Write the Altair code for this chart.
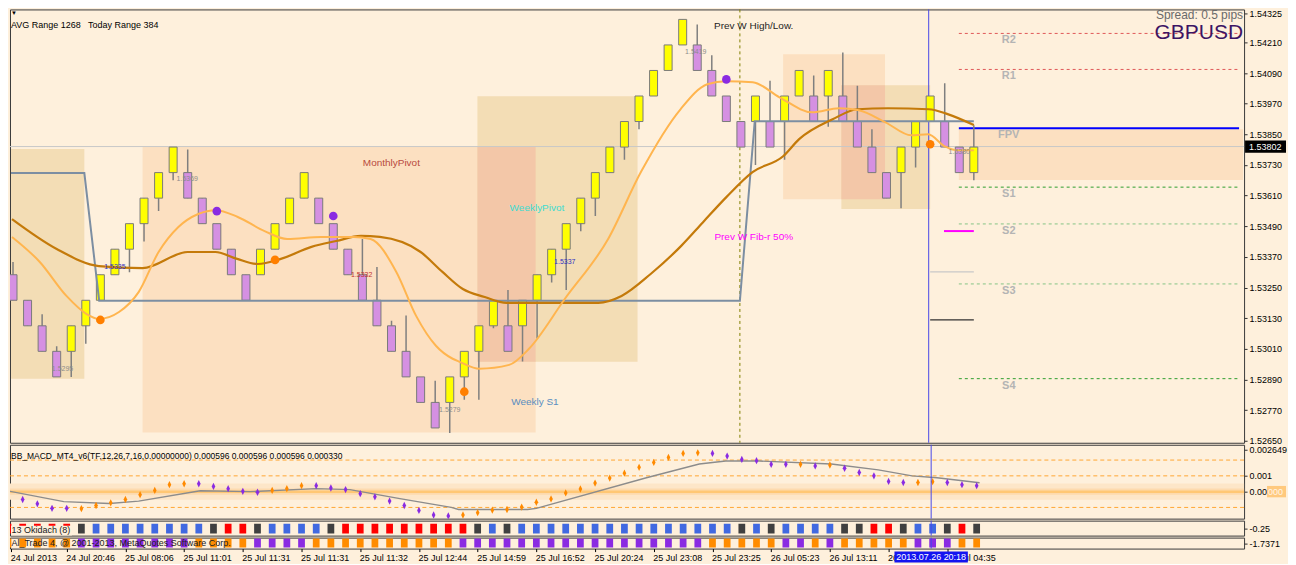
import json
import altair as alt
import pandas as pd

FONT = "Liberation Sans"
BG = "#FEF0DC"
W = 1236
H_MAIN, H_MACD, H_R1, H_R2 = 434, 74, 15, 11
X_DOM = [1.136, 85.22]
Y_DOM = [1.52642, 1.54339]
M_DOM = [-0.00171, 0.00297]

# ---------------- data ----------------
bars = list(range(1, 68))
opens = [1.5330, 1.5320, 1.5310, 1.5300, 1.5300, 1.5310, 1.5320, 1.5330, 1.5340, 1.5350,
         1.5360, 1.5370, 1.5370, 1.5360, 1.5350, 1.5340, 1.5330, 1.5330, 1.5340, 1.5350,
         1.5360, 1.5360, 1.5350, 1.5340, 1.5330, 1.5320, 1.5310, 1.5300, 1.5290, 1.5280,
         1.5280, 1.5290, 1.5300, 1.5310, 1.5310, 1.5310, 1.5320, 1.5330, 1.5340, 1.5350,
         1.5360, 1.5370, 1.5380, 1.5390, 1.5400, 1.5410, 1.5420, 1.5420, 1.5410, 1.5400,
         1.5390, 1.5390, 1.5390, 1.5390, 1.5400, 1.5400, 1.5400, 1.5400, 1.5390, 1.5380,
         1.5370, 1.5370, 1.5380, 1.5390, 1.5390, 1.5380, 1.5370]
closes = [1.5320, 1.5310, 1.5300, 1.5290, 1.5310, 1.5320, 1.5330, 1.5340, 1.5350, 1.5360,
          1.5370, 1.5380, 1.5360, 1.5350, 1.5340, 1.5330, 1.5320, 1.5340, 1.5350, 1.5360,
          1.5370, 1.5350, 1.5340, 1.5330, 1.5320, 1.5310, 1.5300, 1.5290, 1.5280, 1.5270,
          1.5290, 1.5300, 1.5310, 1.5320, 1.5300, 1.5320, 1.5330, 1.5340, 1.5350, 1.5360,
          1.5370, 1.5380, 1.5390, 1.5400, 1.5410, 1.5420, 1.5430, 1.5410, 1.5400, 1.5390,
          1.5380, 1.5400, 1.5380, 1.5400, 1.5410, 1.5390, 1.5410, 1.5390, 1.5380, 1.5370,
          1.5360, 1.5380, 1.5390, 1.5400, 1.5380, 1.5370, 1.5380]
highs = [1.5335, 1.5320, 1.53145, 1.5302, 1.5310, 1.5320, 1.5330, 1.5340, 1.5350, 1.5360,
         1.5370, 1.5380, 1.5379, 1.5360, 1.5350, 1.5340, 1.5330, 1.5340, 1.5350, 1.5360,
         1.5370, 1.5360, 1.5350, 1.5340, 1.5344, 1.5333, 1.5312, 1.5314, 1.5290, 1.52885,
         1.5290, 1.5300, 1.5310, 1.5320, 1.5324, 1.5320, 1.5330, 1.5340, 1.5350, 1.5360,
         1.5370, 1.5380, 1.5390, 1.5400, 1.5410, 1.5420, 1.5430, 1.5428, 1.5416, 1.5400,
         1.5390, 1.5400, 1.5406, 1.5400, 1.5410, 1.5408, 1.5410, 1.5417, 1.5404, 1.5387,
         1.5370, 1.5380, 1.5390, 1.5400, 1.5405, 1.5380, 1.53885]
lows = [1.5320, 1.5310, 1.5300, 1.5290, 1.5290, 1.5303, 1.5320, 1.5330, 1.5331, 1.5343,
        1.5355, 1.5367, 1.5360, 1.5350, 1.5340, 1.5330, 1.5320, 1.5330, 1.5340, 1.5350,
        1.5360, 1.5350, 1.5340, 1.5330, 1.5320, 1.5310, 1.5300, 1.5290, 1.5280, 1.5270,
        1.5268, 1.5281, 1.5281, 1.5309, 1.5300, 1.5296, 1.5305, 1.5327, 1.5324, 1.5347,
        1.5353, 1.5370, 1.5375, 1.5387, 1.5400, 1.5410, 1.5420, 1.5410, 1.5400, 1.5390,
        1.5380, 1.5373, 1.5380, 1.5375, 1.5400, 1.5390, 1.5388, 1.5390, 1.5380, 1.5370,
        1.5360, 1.5356, 1.5372, 1.5390, 1.5380, 1.5370, 1.5367]

price_ticks = [1.52650, 1.52770, 1.52890, 1.53010, 1.53130, 1.53250, 1.53370, 1.53490,
               1.53610, 1.53730, 1.53850, 1.53970, 1.54090, 1.54210, 1.54325]
last_price = 1.53802

slow_x = [0.93, 4.0, 6.9, 9.9, 13.0, 14.9, 16.4, 17.8, 19.4, 21.5, 23.2, 24.9, 26.2, 29.0,
          30.5, 31.9, 33.4, 34.9, 37.3, 41.2, 42.8, 44.8, 46.9, 48.4, 50.0, 51.8, 53.9,
          55.0, 57.3, 59.0, 61.1, 63.9, 65.2, 67.0]
slow_y = [1.53518, 1.53401, 1.53334, 1.53326, 1.53389, 1.53389, 1.53362, 1.53342, 1.53362,
          1.53409, 1.53432, 1.53452, 1.53448, 1.53389, 1.53311, 1.53244, 1.53213, 1.53190,
          1.53190, 1.53190, 1.53217, 1.53303, 1.53413, 1.53506, 1.53604, 1.53702, 1.53764,
          1.53831, 1.53909, 1.53948, 1.53952, 1.53948, 1.53929, 1.53886]
fast_x = [0.93, 2.84, 4.67, 6.03, 6.92, 8.28, 9.64, 11.0, 12.36, 13.72, 14.95, 16.44, 18.28,
          19.84, 22.16, 24.4, 25.56, 27.33, 28.69, 30.05, 31.2, 31.68, 33.04, 35.08, 36.44,
          38.9, 41.88, 44.13, 46.85, 48.69, 49.98, 51.82, 53.65, 55.9, 57.73, 59.1, 60.93,
          62.7, 63.86, 65.0, 65.76, 67.0]
fast_y = [1.53448, 1.53350, 1.53217, 1.53147, 1.53127, 1.53154, 1.53233, 1.53389, 1.53487,
          1.53538, 1.53553, 1.53526, 1.53471, 1.53440, 1.53448, 1.53448, 1.53440, 1.53311,
          1.53139, 1.53022, 1.52971, 1.52959, 1.52932, 1.52947, 1.53010, 1.53205, 1.53440,
          1.53702, 1.53948, 1.54046, 1.54058, 1.54054, 1.53995, 1.53936, 1.53952, 1.53944,
          1.53897, 1.53846, 1.53850, 1.53803, 1.53788, 1.53788]

step_x = [0.864, 5.9, 6.92, 50.93, 51.95, 67.0]
step_y = [1.53698, 1.53698, 1.53198, 1.53198, 1.53901, 1.53901]

dot_bar = [15, 23, 50, 7, 19, 32, 64]
dot_price = [1.53549, 1.53530, 1.54065, 1.53123, 1.53358, 1.52842, 1.53811]
dot_kind = ["sell", "sell", "sell", "buy", "buy", "buy", "buy"]

zone_x1 = [0.864, 9.9, 32.9, 53.9, 57.9, 65.97, 32.9, 57.9]
zone_x2 = [5.9, 36.9, 43.9, 60.9, 64.0, 85.49, 36.9, 60.9]
zone_lo = [1.52893, 1.52682, 1.52959, 1.53596, 1.53557, 1.53671, 1.52959, 1.53596]
zone_hi = [1.53792, 1.53800, 1.53999, 1.54163, 1.54042, 1.53870, 1.53800, 1.54042]
zone_kind = ["tan", "peach", "tan", "peach", "tan", "peach", "both", "both"]

level_names = ["R2", "R1", "FPV", "S1", "S2", "S3", "S4"]
level_price = [1.54245, 1.54104, 1.53874, 1.53643, 1.53499, 1.53264, 1.52893]
level_start = 65.97

short_names = ["fib50", "mid", "low"]
short_x1 = [64.95, 64.0, 64.0]
short_x2 = [67.0, 67.0, 67.0]
short_price = [1.53471, 1.53311, 1.53123]

week_sep = 50.93
cursor_bar = 63.9
cursor_time = "2013.07.26 20:18"

cl_text = ["1.5295", "1.5335", "1.5369", "1.5332", "1.5279", "1.5337", "1.5419", "1.5380"]
cl_bar = [4.4, 8.0, 12.97, 24.95, 31.0, 38.9, 47.9, 66.0]
cl_price = [1.52932, 1.53330, 1.53674, 1.53299, 1.52771, 1.53350, 1.54171, 1.53780]
cl_kind = ["g", "b", "g", "r", "g", "b", "g", "g"]

ann_text = ["MonthlyPivot", "WeeklyPivot", "Weekly S1", "Prev W High/Low.", "Prev W Fib-r 50%"]
ann_bar = [26.99, 36.99, 36.85, 51.88, 51.88]
ann_price = [1.53737, 1.53561, 1.52803, 1.54276, 1.53448]

macd_vals = [-0.00019, -0.00050, -0.00077, -0.00106, -0.00106, -0.00108, -0.00088, -0.00071, -0.00050, -0.00019,
             0.00008, 0.00044, 0.00050, 0.00050, 0.00033, 0.00019, 0.00002, -0.00004, 0.00008, 0.00019,
             0.00038, 0.00038, 0.00023, 0.00013, -0.00013, -0.00033, -0.00060, -0.00088, -0.00119, -0.00148,
             -0.00154, -0.00148, -0.00133, -0.00117, -0.00113, -0.00098, -0.00067, -0.00046, -0.00008, 0.00017,
             0.00054, 0.00086, 0.00117, 0.00154, 0.00185, 0.00217, 0.00242, 0.00246, 0.00242, 0.00225,
             0.00204, 0.00196, 0.00173, 0.00173, 0.00173, 0.00163, 0.00169, 0.00148, 0.00121, 0.00100,
             0.00065, 0.00058, 0.00058, 0.00063, 0.00058, 0.00044, 0.00038]
macd_codes = list("PPPPP" "OOOOOOOO" "PPPPP" "OOO" "PPPPPPPPPP" "OOOOOOOOOOOOOOOOO"
                  "PPPPPP" "O" "P" "O" "PPPPP" "OO" "PPP")
sig_x = [0.9, 4.8, 7.9, 9.9, 14.1, 17.5, 22.0, 24.3, 27.7, 31.2, 31.7, 36.4, 37.0, 44.5,
         48.1, 49.9, 52.2, 57.1, 60.3, 62.6, 64.3, 67.2]
sig_y = [0.00006, -0.00063, -0.00075, -0.00060, 0.00006, 0.0, 0.00019, 0.00013, -0.00044,
         -0.00100, -0.00113, -0.00113, -0.00106, 0.00088, 0.00175, 0.00194, 0.00194, 0.00175,
         0.00138, 0.00100, 0.00088, 0.00056]
macd_levels = [0.002, 0.001, -0.001]

ok_codes = list("RRRRR" "K" "BBBBBBBB" "K" "RR" "K" "BBBB" "K" "RRRRRRRRR" "K" "B" "K"
                "BBBBBBBBBBBBBBB" "K" "B" "K" "BBBB" "KK" "RR" "K" "BB" "K" "R" "K")
at_codes = list("OOOOO" "PPPPPPPP" "OOOO" "PPPP" "OOOOOOOOOO" "PPPPPPPPPPPPPPPPP"
                "OOOOO" "PP" "O" "P" "OOOOO" "PPP" "OO")

tick_bars = [1, 5, 9, 13, 17, 21, 25, 29, 33, 37, 41, 45, 49, 53, 57, 61, 65]
time_labels = ["24 Jul 2013", "24 Jul 20:46", "25 Jul 08:06", "25 Jul 11:01", "25 Jul 11:31",
               "25 Jul 11:31", "25 Jul 11:32", "25 Jul 12:44", "25 Jul 14:59", "25 Jul 16:52",
               "25 Jul 20:24", "25 Jul 23:08", "25 Jul 23:25", "26 Jul 05:23", "26 Jul 13:11",
               "26 Jul 17:40", "27 Jul 04:35"]

# ---------------- styles ----------------
UP, DN = "#FFFF00", "#D590E2"
ZONE_COL = {"tan": "#F3DDB5", "peach": "#FCE0C1", "both": "#F3C7A8"}
LEVEL_COL = {"R2": "#E05858", "R1": "#E05858", "FPV": "#0000FF", "S1": "#2E9E2E",
             "S2": "#86C486", "S3": "#86C486", "S4": "#2E9E2E"}
SHORT_COL = {"fib50": "#FF00FF", "mid": "#C8C8C8", "low": "#303030"}
SHORT_W = {"fib50": 2, "mid": 1.2, "low": 1.2}
DOT_COL = {"sell": "#8A2BE2", "buy": "#FF7F00"}
CL_COL = {"g": "#8C8C8C", "b": "#3030C0", "r": "#C03030"}
ANN_COL = ["#B84A40", "#40DCD0", "#5A8EC0", "#1E1E1E", "#FF00FF"]
MACD_COL = {"P": "#8A2BE2", "O": "#FF8A00"}
OK_COL = {"R": "#FF0000", "K": "#404040", "B": "#4169E1"}
AT_COL = {"O": "#FF8C00", "P": "#8A2BE2"}
CURSOR = "#4848E8"
NB = "\u00a0"


def X(field, axis=None):
    return alt.X(field, type="quantitative",
                 scale=alt.Scale(domain=X_DOM, nice=False, zero=False), axis=axis)


common_axis = dict(orient="right", title=None, tickSize=3, tickColor="#303030",
                   labelPadding=2, labelFontSize=9, labelColor="#000000", domain=False,
                   grid=False, labelFlush=False, labelOverlap=False)
price_axis = alt.Axis(values=price_ticks, format=".5f", **common_axis)


def Yp(field):
    return alt.Y(field, type="quantitative",
                 scale=alt.Scale(domain=Y_DOM, nice=False, zero=False), axis=price_axis)


macd_axis = alt.Axis(values=[0.002649, 0.001, 0.0, -0.001721],
                     labelExpr="datum.value > 0.002 ? '0.002649' : datum.value > 0.0005 ? '0.001' : "
                               "datum.value > -0.0005 ? '0.00' : '-0.001721'",
                     **common_axis)


def Ym(field):
    return alt.Y(field, type="quantitative",
                 scale=alt.Scale(domain=M_DOM, nice=False, zero=False), axis=macd_axis)


ident = lambda f: alt.Color(f, type="nominal", scale=None)

# ---------------- main panel ----------------
ohlc = pd.DataFrame({"bar": bars, "open": opens, "close": closes, "high": highs, "low": lows})
ohlc["c"] = [UP if c > o else DN for o, c in zip(opens, closes)]

zones = pd.DataFrame({"x1": zone_x1, "x2": zone_x2, "lo": zone_lo, "hi": zone_hi,
                      "c": [ZONE_COL[k] for k in zone_kind]})
levels = pd.DataFrame({"name": level_names, "p": level_price,
                       "x1": [level_start] * len(level_names), "x2": [X_DOM[1]] * len(level_names),
                       "c": [LEVEL_COL[n] for n in level_names]})
shorts = pd.DataFrame({"x1": short_x1, "x2": short_x2, "p": short_price,
                       "c": [SHORT_COL[n] for n in short_names], "w": [SHORT_W[n] for n in short_names]})

layers = []
layers.append(alt.Chart(zones).mark_rect(clip=True).encode(
    x=X("x1"), x2="x2", y=Yp("lo"), y2="hi", color=ident("c")))
layers.append(alt.Chart(pd.DataFrame({"p": [last_price]})).mark_rule(
    color="#C8C8C8", strokeWidth=1).encode(y=Yp("p")))
layers.append(alt.Chart(levels[levels.name != "FPV"]).mark_rule(
    strokeDash=[3, 3], strokeWidth=1).encode(x=X("x1"), x2="x2", y=Yp("p"), color=ident("c")))
layers.append(alt.Chart(levels[levels.name == "FPV"]).mark_rule(
    strokeWidth=2).encode(x=X("x1"), x2="x2", y=Yp("p"), color=ident("c")))
layers.append(alt.Chart(levels).mark_text(
    fontSize=11, fontWeight="bold", color="#B4B4B4", baseline="middle", dy=7).encode(
    x=X("lx"), y=Yp("p"), text="name:N").transform_calculate(lx="69.4"))
layers.append(alt.Chart(shorts).mark_rule().encode(
    x=X("x1"), x2="x2", y=Yp("p"), color=ident("c"),
    strokeWidth=alt.StrokeWidth("w", type="quantitative", scale=None)))
layers.append(alt.Chart(pd.DataFrame({"x": [week_sep]})).mark_rule(
    color="#808000", strokeDash=[3, 3], strokeWidth=1).encode(x=X("x")))
layers.append(alt.Chart(pd.DataFrame({"x": [cursor_bar]})).mark_rule(
    color=CURSOR, strokeWidth=1).encode(x=X("x")))
layers.append(alt.Chart(ohlc).mark_rule(color="#7F7F7F", strokeWidth=1.5, clip=True).encode(
    x=X("bar"), y=Yp("low"), y2="high"))
layers.append(alt.Chart(ohlc).mark_bar(size=8, stroke="#7A7A7A", strokeWidth=1, clip=True).encode(
    x=X("bar"), y=Yp("open"), y2="close", color=ident("c")))
layers.append(alt.Chart(pd.DataFrame({"x": step_x, "y": step_y})).mark_line(
    color="#7C8EA2", strokeWidth=2, clip=True).encode(x=X("x"), y=Yp("y")))
layers.append(alt.Chart(pd.DataFrame({"x": slow_x, "y": slow_y})).mark_line(
    color="#C47A0A", strokeWidth=2.2, interpolate="monotone", clip=True).encode(x=X("x"), y=Yp("y")))
layers.append(alt.Chart(pd.DataFrame({"x": fast_x, "y": fast_y})).mark_line(
    color="#FFB54F", strokeWidth=2, interpolate="monotone", clip=True).encode(x=X("x"), y=Yp("y")))
layers.append(alt.Chart(pd.DataFrame({"x": dot_bar, "y": dot_price,
                                      "c": [DOT_COL[k] for k in dot_kind]})).mark_circle(
    size=75, opacity=1).encode(x=X("x"), y=Yp("y"), color=ident("c")))
layers.append(alt.Chart(pd.DataFrame({"x": cl_bar, "y": cl_price, "t": cl_text,
                                      "c": [CL_COL[k] for k in cl_kind]})).mark_text(
    fontSize=7, baseline="middle").encode(x=X("x"), y=Yp("y"), text="t:N", color=ident("c")))
layers.append(alt.Chart(pd.DataFrame({"x": ann_bar, "y": ann_price, "t": ann_text,
                                      "c": ANN_COL})).mark_text(
    fontSize=10, baseline="middle").encode(x=X("x"), y=Yp("y"), text="t:N", color=ident("c")))
# header texts
layers.append(alt.Chart(pd.DataFrame({"t": [f"AVG Range 1268{NB}{NB}{NB}Today Range 384"]})).mark_text(
    fontSize=9, align="left", baseline="middle", color="#000000").encode(
    x=alt.value(1), y=alt.value(16), text="t:N"))
layers.append(alt.Chart(pd.DataFrame({"t": ["▼"]})).mark_text(
    fontSize=6, align="left", baseline="middle", color="#000000").encode(
    x=alt.value(1), y=alt.value(4), text="t:N"))
layers.append(alt.Chart(pd.DataFrame({"t": ["Spread: 0.5 pips"]})).mark_text(
    fontSize=12, align="right", baseline="middle", color="#6A6A6A").encode(
    x=alt.value(W - 1), y=alt.value(5.5), text="t:N"))
layers.append(alt.Chart(pd.DataFrame({"t": ["GBPUSD"]})).mark_text(
    fontSize=21, align="right", baseline="middle", color="#3C1464").encode(
    x=alt.value(W - 1), y=alt.value(24), text="t:N"))
# current price tag on the axis
tag = pd.DataFrame({"p": [last_price], "t": [f"{last_price:.5f}"]})
layers.append(alt.Chart(tag).mark_rect(color="#000000").encode(
    x=alt.value(W + 1), x2=alt.value(W + 42), y=Yp("top"), y2="bot").transform_calculate(
    top="datum.p + 0.00024", bot="datum.p - 0.00024"))
layers.append(alt.Chart(tag).mark_text(fontSize=9, align="left", baseline="middle",
                                       color="#FFFFFF").encode(
    x=alt.value(W + 5), y=Yp("p"), text="t:N"))

main = alt.layer(*layers).properties(width=W, height=H_MAIN)

# ---------------- MACD panel ----------------
mdf = pd.DataFrame({"bar": bars, "v": macd_vals, "c": [MACD_COL[k] for k in macd_codes]})
zero = pd.DataFrame({"v": [0.0]})
mlayers = [
    alt.Chart(zero).mark_rect(color="#FDE6C8").encode(
        x=alt.value(0), x2=alt.value(W), y=Ym("a"), y2="b").transform_calculate(
        a="datum.v + 0.00052", b="datum.v - 0.00052"),
    alt.Chart(zero).mark_rect(color="#FDDAAE").encode(
        x=alt.value(0), x2=alt.value(W), y=Ym("a"), y2="b").transform_calculate(
        a="datum.v + 0.0002", b="datum.v - 0.0002"),
    alt.Chart(zero).mark_rule(color="#FFC774", strokeWidth=2.5).encode(y=Ym("v")),
    alt.Chart(pd.DataFrame({"v": macd_levels})).mark_rule(
        color="#FFA733", strokeDash=[4, 3], strokeWidth=1).encode(y=Ym("v")),
    alt.Chart(pd.DataFrame({"x": sig_x, "y": sig_y})).mark_line(
        color="#8C8C8C", strokeWidth=1.4, clip=True).encode(x=X("x"), y=Ym("y")),
    alt.Chart(mdf).mark_point(shape="M0,-1.3L0.65,0L0,1.3L-0.65,0Z", filled=True,
                              size=32, opacity=1, clip=True).encode(
        x=X("bar"), y=Ym("v"), color=ident("c")),
    alt.Chart(pd.DataFrame({"x": [cursor_bar]})).mark_rule(color=CURSOR, strokeWidth=1).encode(x=X("x")),
    alt.Chart(pd.DataFrame({"t": ["BB_MACD_MT4_v6(TF,12,26,7,16,0.00000000) 0.000596 0.000596 0.000596 0.000330"]})
    ).mark_text(fontSize=8.5, align="left", baseline="middle", color="#000000").encode(
        x=alt.value(1), y=alt.value(11), text="t:N"),
    alt.Chart(zero).mark_rect(color="#FFC97E").encode(
        x=alt.value(W + 23), x2=alt.value(W + 42), y=Ym("a"), y2="b").transform_calculate(
        a="datum.v + 0.00036", b="datum.v - 0.00036"),
    alt.Chart(pd.DataFrame({"v": [0.0], "t": ["000"]})).mark_text(
        fontSize=9, align="left", baseline="middle", color="#FFF6E8").encode(
        x=alt.value(W + 24), y=Ym("v"), text="t:N"),
]
macd = alt.layer(*mlayers).properties(width=W, height=H_MACD)


# ---------------- indicator rows ----------------
def row(codes, palette, label, axis_label, height, sq_top, sq_bot, text_y, xaxis, label_bg):
    d = pd.DataFrame({"bar": bars, "c": [palette[k] for k in codes]})
    lay = [
        alt.Chart(d).mark_rect(clip=True).encode(
            x=X("x1", xaxis), x2="x2", y=alt.value(sq_top), y2=alt.value(sq_bot),
            color=ident("c")).transform_calculate(x1="datum.bar - 0.23", x2="datum.bar + 0.23"),
        alt.Chart(pd.DataFrame({"bar": [40], "yy": [0.5]})).mark_point(opacity=0).encode(
            x=X("bar", xaxis),
            y=alt.Y("yy", type="quantitative", scale=alt.Scale(domain=[0, 1]),
                    axis=alt.Axis(values=[0.5], labelExpr=f"'{axis_label}'", **common_axis))),
        alt.Chart(pd.DataFrame({"x": [cursor_bar]})).mark_rule(color=CURSOR, strokeWidth=1).encode(
            x=X("x", xaxis)),
    ]
    if label_bg:
        lay.append(alt.Chart(pd.DataFrame({"t": [label]})).mark_rect(color=BG).encode(
            x=alt.value(1), x2=alt.value(62), y=alt.value(text_y - 4), y2=alt.value(height)))
    lay.append(alt.Chart(pd.DataFrame({"t": [label]})).mark_text(
        fontSize=9, align="left", baseline="middle", color="#202020").encode(
        x=alt.value(1.5), y=alt.value(text_y), text="t:N"))
    return lay


axis_ticks = [max(b, X_DOM[0] + 0.08) for b in tick_bars]
time_axis = alt.Axis(orient="bottom", values=axis_ticks,
                     labelExpr=f"{json.dumps(time_labels)}[round((datum.value - 1) / 4)]",
                     title=None, tickSize=3, tickColor="#000000", labelAlign="left",
                     labelBaseline="top", labelPadding=2, labelFontSize=9, labelColor="#000000",
                     domain=False, grid=False, labelFlush=False, labelOverlap=False, labelOffset=-1)

row1 = alt.layer(*row(ok_codes, OK_COL, "13 Okidach (8)", "-0.25", H_R1, 3, 13, 9, None, True)
                 ).properties(width=W, height=H_R1)

r2 = row(at_codes, AT_COL, "Al_Trade 4, @ 2001-2013, MetaQuotes Software Corp.", "-1.7371",
         H_R2, 1, 10, 5, time_axis, False)
cur = pd.DataFrame({"x": [cursor_bar], "t": [cursor_time]})
r2.append(alt.Chart(cur).mark_rect(color="#1414F0").encode(
    x=X("x1", time_axis), x2="x2", y=alt.value(14), y2=alt.value(25)).transform_calculate(
    x1="datum.x - 2.5", x2="datum.x + 2.5"))
r2.append(alt.Chart(cur).mark_text(
    fontSize=9, align="center", baseline="middle", color="#FFFFFF").encode(
    x=X("x", time_axis), y=alt.value(19.5), text="t:N"))
row2 = alt.layer(*r2).properties(width=W, height=H_R2)

chart = alt.vconcat(main, macd, row1, row2, spacing=2, bounds="flush").properties(
    background=BG, padding=0
).configure(font=FONT).configure_view(stroke="#3A3A3A", strokeWidth=1)

chart.save("out.html", embed_options={"renderer": "svg", "actions": False})
